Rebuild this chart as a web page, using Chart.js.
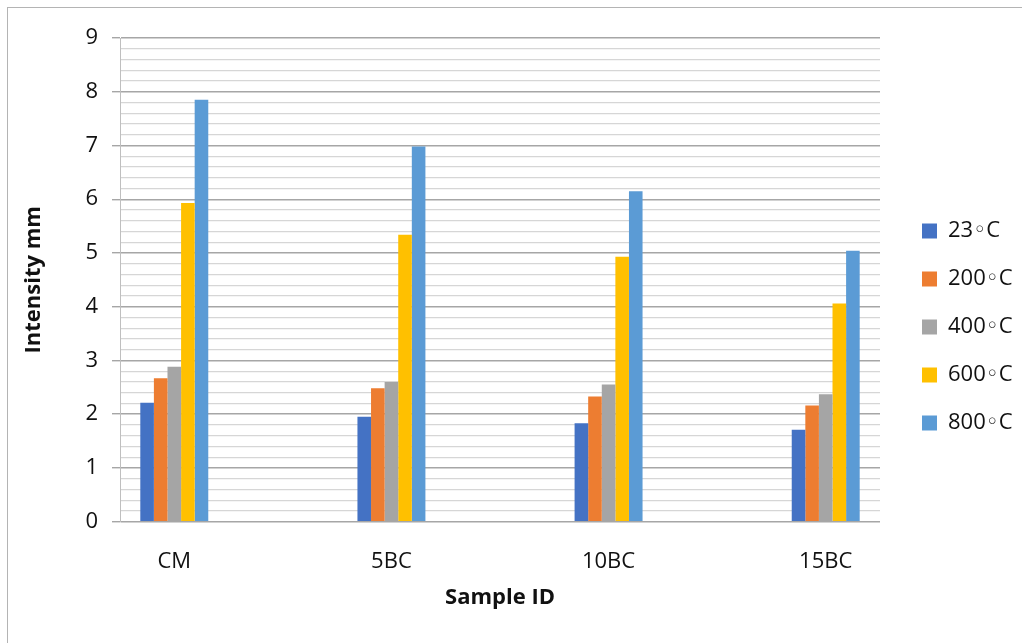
<!DOCTYPE html>
<html>
<head>
<meta charset="utf-8">
<script src="https://cdn.jsdelivr.net/npm/chart.js@4.4.1/dist/chart.umd.min.js"></script>
<style>
  html, body { margin: 0; padding: 0; background: #fff; overflow: hidden; }
  #wrap { position: relative; width: 1022px; height: 643px; }
  #frame { position: absolute; left: 7px; top: 7px; width: 1100px; height: 700px;
           border: 1px solid #b4b4b4; pointer-events: none; }
</style>
</head>
<body>
<div id="wrap">
  <canvas id="chart"></canvas>
  <div id="frame"></div>
</div>
<script>
const categories = ['CM', '5BC', '10BC', '15BC'];
const seriesNames = ['23\u25E6C', '200\u25E6C', '400\u25E6C', '600\u25E6C', '800\u25E6C'];
const seriesColors = ['#4472C4', '#ED7D31', '#A5A5A5', '#FFC000', '#5B9BD5'];

const t23 = [2.21, 1.95, 1.83, 1.71];
const t200 = [2.67, 2.48, 2.33, 2.16];
const t400 = [2.88, 2.60, 2.55, 2.37];
const t600 = [5.93, 5.34, 4.93, 4.06];
const t800 = [7.85, 6.98, 6.15, 5.04];

const yTicks = { min: 0, max: 9, major: 1, minor: 0.2 };

const seriesValues = [t23, t200, t400, t600, t800];

const isMajor = v => Math.abs(v - Math.round(v)) < 1e-6;

const fontFamily = '"Open Sans", "Noto Sans", "DejaVu Sans", sans-serif';

const ctx = document.getElementById('chart').getContext('2d');
const chart = new Chart(ctx, {
    type: 'bar',
    data: {
        datasets: seriesValues.map((vals, i) => ({
            label: seriesNames[i],
            data: vals.map((v, j) => ({ x: j, y: v })),
            backgroundColor: seriesColors[i],
            borderWidth: 0,
            barPercentage: 1.0,
            categoryPercentage: 0.313
        }))
    },
    options: {
        responsive: true,
        maintainAspectRatio: false,
        animation: false,
        layout: {
            padding: { left: 0, top: 38, right: 0, bottom: 27 }
        },
        plugins: {
            tooltip: { enabled: false },
            legend: {
                position: 'right',
                maxWidth: 126,
                labels: {
                    boxWidth: 15,
                    boxHeight: 15,
                    padding: 26,
                    color: '#111',
                    font: { family: fontFamily, size: 22 }
                }
            }
        },
        scales: {
            x: {
                type: 'linear',
                min: -0.25,
                max: 3.25,
                offset: false,
                afterBuildTicks: s => { s.ticks = categories.map((_, i) => ({ value: i })); },
                afterFit: s => { s.height = 94.4; },
                grid: { display: false, offset: false, drawTicks: false },
                border: { display: false },
                ticks: {
                    autoSkip: false,
                    maxRotation: 0,
                    padding: 27,
                    color: '#111',
                    font: { family: fontFamily, size: 22 },
                    callback: v => categories[v]
                },
                title: {
                    display: true,
                    text: 'Sample ID',
                    color: '#111',
                    padding: { top: 0, bottom: 5 },
                    font: { family: fontFamily, size: 22, weight: 'bold' }
                }
            },
            y: {
                min: yTicks.min,
                max: yTicks.max,
                afterFit: s => { s.width = 120; },
                grid: {
                    color: c => isMajor(c.tick.value) ? '#a6a6a6' : '#d6d6d6',
                    lineWidth: c => isMajor(c.tick.value) ? 1.4 : 1.2,
                    tickColor: c => isMajor(c.tick.value) ? '#a6a6a6' : 'rgba(0,0,0,0)',
                    tickLength: 8
                },
                border: { display: true, color: '#bfbfbf', width: 1 },
                ticks: {
                    stepSize: yTicks.minor,
                    autoSkip: false,
                    maxTicksLimit: 100,
                    padding: 14,
                    color: '#111',
                    font: { family: fontFamily, size: 22 },
                    callback: v => isMajor(v) ? String(Math.round(v)) : ''
                },
                title: {
                    display: true,
                    text: 'Intensity mm',
                    color: '#111',
                    padding: { top: 21, bottom: 0 },
                    font: { family: fontFamily, size: 22, weight: 'bold' }
                }
            },
            spacer: {
                type: 'linear',
                position: 'right',
                display: true,
                afterFit: s => { s.width = 16; },
                grid: { display: false },
                border: { display: false },
                ticks: { display: false }
            }
        }
    }
});
</script>
</body>
</html>
